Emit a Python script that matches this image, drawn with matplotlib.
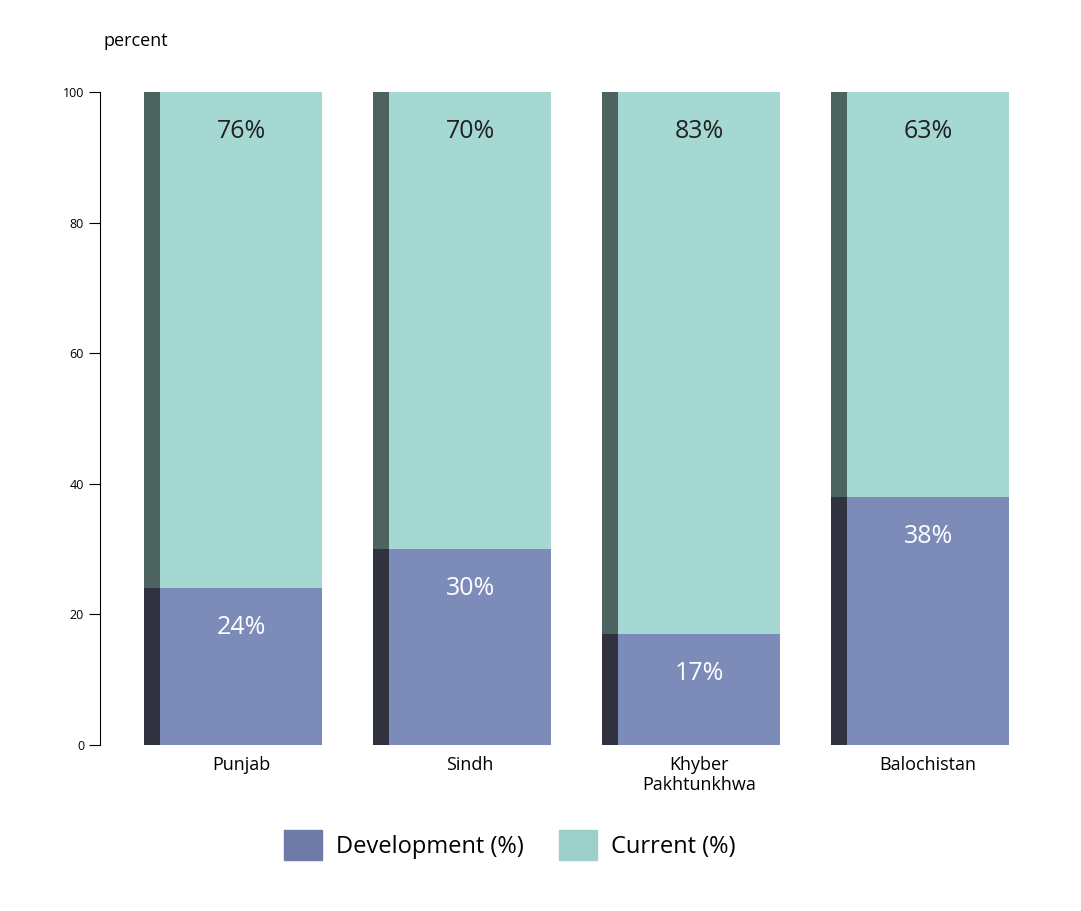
import numpy as np
import matplotlib.pyplot as plt
from matplotlib.patches import Patch

plt.rcParams['font.family'] = ['Open Sans', 'DejaVu Sans']

regions = ["Punjab", "Sindh", "Khyber\nPakhtunkhwa", "Balochistan"]
development = [24, 30, 17, 38]
current = [76, 70, 83, 63]

DEV, CUR = "#7d8bb8", "#a6d8d3"
DEV_SIDE, CUR_SIDE = "#30333f", "#4d6360"
W, SIDE = 0.707, 0.07

fig = plt.figure(figsize=(10.81, 9.11), dpi=100)
ax = fig.add_axes([100 / 1081, 166 / 911, 930 / 1081, 653 / 911])
x = np.arange(len(regions))
sx = x - W / 2 - SIDE / 2

ax.bar(x, development, W, color=DEV)
ax.bar(x, current, W, bottom=development, color=CUR)
ax.bar(sx, development, SIDE, color=DEV_SIDE)
ax.bar(sx, current, SIDE, bottom=development, color=CUR_SIDE)

for xi, d, c in zip(x, development, current):
    ax.text(xi, 94, f"{c}%", ha="center", va="center", fontsize=18, color="#222222")
    ax.text(xi, d - 6, f"{d}%", ha="center", va="center", fontsize=18, color="white")

ax.set_xlim(-0.616, 3.445)
ax.set_ylim(0, 100)
ax.set_yticks([0, 20, 40, 60, 80, 100])
ax.tick_params(axis="y", labelsize=9, direction="out", length=8)
ax.set_xticks(x)
ax.set_xticklabels(regions, fontsize=13, linespacing=1.1)
ax.tick_params(axis="x", length=0, pad=8)
for s in ["top", "right", "bottom"]:
    ax.spines[s].set_visible(False)
ax.text(-0.6, 107, "percent", fontsize=13, ha="left", transform=ax.transData,
        clip_on=False)
ax.text(-0.98, 106.5, "percent", fontsize=13, ha="left", clip_on=False) if False else None

fig.legend(handles=[Patch(color="#6f7ba6", label="Development (%)"),
                    Patch(color="#9dcfca", label="Current (%)")],
           loc="center", bbox_to_anchor=(510 / 1081, 1 - 845 / 911), ncol=2,
           frameon=False, fontsize=17, handlelength=1.6, handleheight=1.6,
           columnspacing=1.5, handletextpad=0.6)
fig.savefig("out.png", dpi=100)
